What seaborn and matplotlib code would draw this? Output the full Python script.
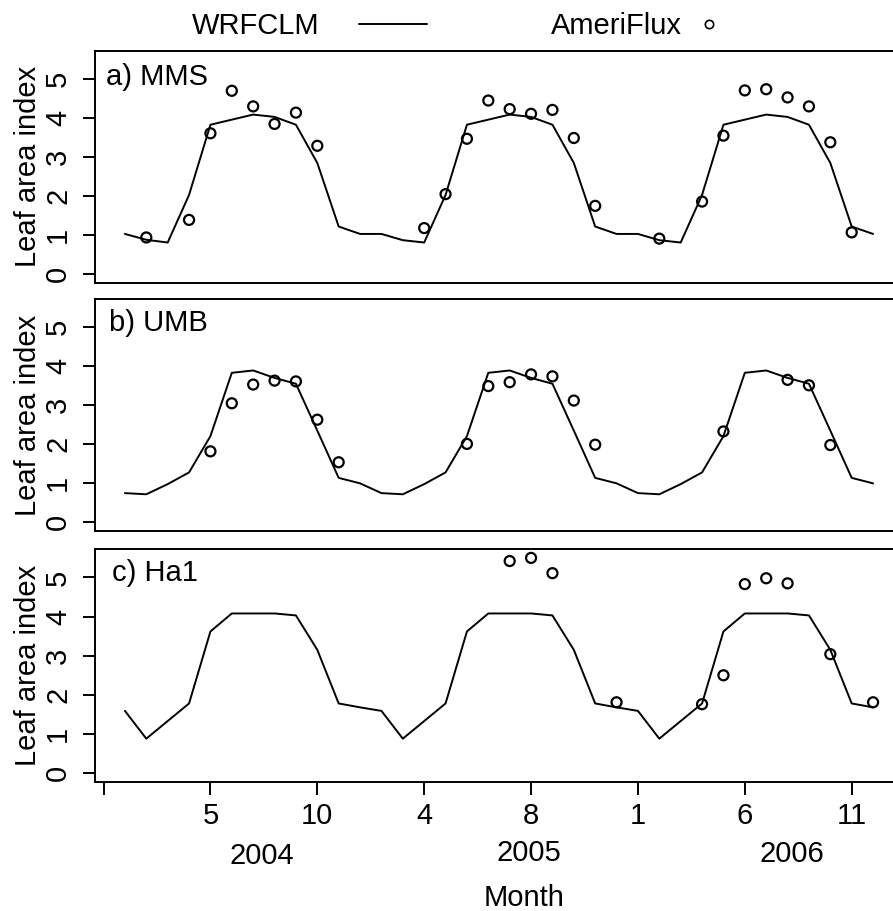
import matplotlib
matplotlib.use("Agg")
import matplotlib.pyplot as plt
from matplotlib.lines import Line2D
import numpy as np
import pandas as pd
import seaborn as sns

# ---------------- data ----------------
months = list(range(1, 37))  # Jan 2004 = 1 ... Dec 2006 = 36

wrf_mms = [1.03, 0.88, 0.81, 2.03, 3.83, 3.96, 4.09, 4.03, 3.83, 2.85, 1.22, 1.03,
           1.03, 0.87, 0.81, 2.03, 3.83, 3.96, 4.09, 4.03, 3.83, 2.85, 1.22, 1.03,
           1.03, 0.87, 0.81, 2.03, 3.83, 3.96, 4.09, 4.03, 3.83, 2.85, 1.22, 1.03]
wrf_umb = [0.75, 0.72, 0.98, 1.28, 2.21, 3.83, 3.89, 3.70, 3.55, 2.35, 1.14, 1.00,
           0.75, 0.72, 0.98, 1.28, 2.21, 3.83, 3.89, 3.70, 3.55, 2.35, 1.14, 1.00,
           0.75, 0.72, 0.98, 1.28, 2.21, 3.83, 3.89, 3.70, 3.55, 2.35, 1.14, 1.00]
wrf_ha1 = [1.59, 0.88, 1.33, 1.78, 3.62, 4.08, 4.08, 4.08, 4.03, 3.15, 1.78, 1.68,
           1.59, 0.88, 1.33, 1.78, 3.62, 4.08, 4.08, 4.08, 4.03, 3.15, 1.78, 1.68,
           1.59, 0.88, 1.33, 1.78, 3.62, 4.08, 4.08, 4.08, 4.03, 3.15, 1.78, 1.68]

obs_mms_month = [2, 4, 5, 6, 7, 8, 9, 10, 15, 16, 17, 18, 19, 20, 21, 22, 23, 26,
                 28, 29, 30, 31, 32, 33, 34, 35]
obs_mms = [0.94, 1.39, 3.61, 4.70, 4.30, 3.85, 4.14, 3.29, 1.18, 2.05, 3.47, 4.45,
           4.23, 4.11, 4.21, 3.49, 1.75, 0.91, 1.86, 3.55, 4.71, 4.74, 4.53, 4.30,
           3.38, 1.07]

obs_umb_month = [5, 6, 7, 8, 9, 10, 11, 17, 18, 19, 20, 21, 22, 23, 29, 32, 33, 34]
obs_umb = [1.82, 3.05, 3.53, 3.63, 3.61, 2.63, 1.54, 2.01, 3.49, 3.59, 3.79, 3.74,
           3.12, 1.99, 2.33, 3.65, 3.51, 1.98]

obs_ha1_month = [19, 20, 21, 24, 28, 29, 30, 31, 32, 34, 36]
obs_ha1 = [5.42, 5.50, 5.11, 1.81, 1.76, 2.50, 4.83, 4.98, 4.85, 3.04, 1.81]

panel_labels = ["a) MMS", "b) UMB", "c) Ha1"]
x_ticks = [0, 5, 10, 15, 20, 25, 30, 35]
x_ticklabels = ["", "5", "10", "4", "8", "1", "6", "11"]
y_ticks = [0, 1, 2, 3, 4, 5]
years = ["2004", "2005", "2006"]
year_pos = [7.4, 19.9, 32.2]

# ---------------- style ----------------
sns.set_style("ticks")
plt.rcParams["font.family"] = ["Liberation Sans", "DejaVu Sans"]
plt.rcParams["text.color"] = "black"
plt.rcParams["axes.labelcolor"] = "black"
plt.rcParams["xtick.color"] = "black"
plt.rcParams["ytick.color"] = "black"
FS = 21
LW = 1.4

fig = plt.figure(figsize=(8.93, 9.11), dpi=100)
W, H = 893.0, 911.0

def pos(top, bottom, left=95, right=903):
    return [left / W, 1 - bottom / H, (right - left) / W, (bottom - top) / H]

panel_px = [(51, 282.7), (299, 531), (549.3, 781.7)]
label_px = [(106, 0.889), (109, 0.895), (112, 0.897)]

models = [wrf_mms, wrf_umb, wrf_ha1]
obs_m = [obs_mms_month, obs_umb_month, obs_ha1_month]
obs_v = [obs_mms, obs_umb, obs_ha1]

for i in range(3):
    ax = fig.add_axes(pos(*panel_px[i]))
    dfm = pd.DataFrame({"month": months, "lai": models[i]})
    dfo = pd.DataFrame({"month": obs_m[i], "lai": obs_v[i]})
    sns.lineplot(data=dfm, x="month", y="lai", ax=ax, color="black", lw=LW)
    sns.scatterplot(data=dfo, x="month", y="lai", ax=ax, marker="o", s=52,
                    facecolors="none", edgecolor="black", linewidth=1.6, zorder=3)
    ax.set_xlim(-0.4, 37.4)
    ax.set_ylim(-0.22, 5.72)
    ax.set_xlabel("")
    ax.set_ylabel("")
    for sp in ax.spines.values():
        sp.set_linewidth(LW)
        sp.set_color("black")
    ax.set_yticks(y_ticks)
    ax.set_yticklabels([str(t) for t in y_ticks])
    ax.tick_params(axis="y", length=9, width=LW, labelsize=FS, pad=17.5,
                   colors="black")
    for lab in ax.get_yticklabels():
        lab.set_rotation(90)
        lab.set_ha("center")
        lab.set_va("center")
    ax.text(-0.083, 0.5, "Leaf area index", transform=ax.transAxes,
            rotation=90, ha="center", va="center", fontsize=FS, color="black")
    ax.text((label_px[i][0] - 95) / 808.0, label_px[i][1], panel_labels[i],
            transform=ax.transAxes, ha="left", va="center", fontsize=FS,
            color="black")
    if i < 2:
        ax.set_xticks([])
    else:
        ax.set_xticks(x_ticks)
        ax.set_xticklabels(x_ticklabels)
        ax.tick_params(axis="x", length=9, width=LW, labelsize=FS, pad=5.5,
                       colors="black")
        ys = [-53.5, -51.3, -52.3]
        for yr, xp, yo in zip(years, year_pos, ys):
            ax.annotate(yr, xy=(xp, 0), xycoords=("data", "axes fraction"),
                        xytext=(0, yo), textcoords="offset points",
                        ha="center", va="center", fontsize=FS, color="black")
        ax.annotate("Month", xy=(19.67, 0), xycoords=("data", "axes fraction"),
                    xytext=(0, -84.0), textcoords="offset points",
                    ha="center", va="center", fontsize=FS, color="black")

# ---------------- legend ----------------
h1 = Line2D([], [], color="black", lw=LW)
h2 = Line2D([], [], color="black", lw=0, marker="o", markersize=6,
            markerfacecolor="none", markeredgewidth=1.2)
l1 = fig.legend([h1], ["WRFCLM"], loc="center", bbox_to_anchor=(309.5 / W, 1 - 26 / H),
                frameon=False, markerfirst=False, handlelength=2.34,
                handletextpad=1.33, fontsize=FS, borderpad=0, borderaxespad=0)
l2 = fig.legend([h2], ["AmeriFlux"], loc="center", bbox_to_anchor=(633.5 / W, 1 - 26 / H),
                frameon=False, markerfirst=False, handlelength=0.5,
                handletextpad=0.68, fontsize=FS, borderpad=0, borderaxespad=0)
for lg in (l1, l2):
    for t in lg.get_texts():
        t.set_color("black")

fig.savefig("out.png", dpi=100)
